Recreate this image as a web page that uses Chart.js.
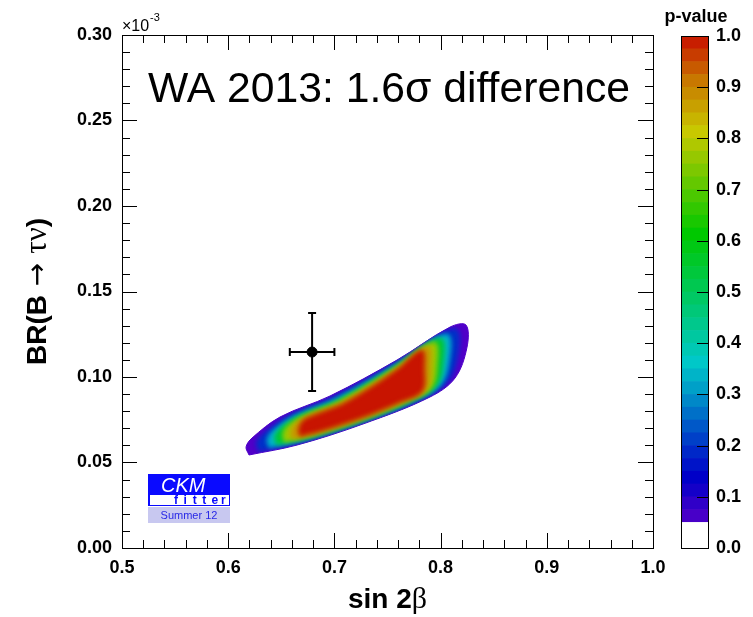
<!DOCTYPE html>
<html>
<head>
<meta charset="utf-8">
<script src="https://cdn.jsdelivr.net/npm/chart.js@4.4.1/dist/chart.umd.min.js"></script>
<style>
  html, body { margin: 0; padding: 0; background: #fff; }
  #wrap { position: relative; width: 753px; height: 617px; }
  #main { position: absolute; left: 0; top: 0; }
  #cbar { position: absolute; left: 640px; top: 0; }
</style>
</head>
<body>
<div id="wrap">
  <canvas id="main" width="753" height="617"></canvas>
  <canvas id="cbar" width="113" height="617"></canvas>
</div>
<script>
const FONT = "'Liberation Sans', Arial, sans-serif";
const SERIF = "'Liberation Serif', 'DejaVu Serif', serif";

// axis ticks
const xTickValues = [0.5, 0.6, 0.7, 0.8, 0.9, 1.0];
const yTickValues = [0.0, 0.05, 0.1, 0.15, 0.2, 0.25, 0.3];
const pTickValues = [0.0, 0.1, 0.2, 0.3, 0.4, 0.5, 0.6, 0.7, 0.8, 0.9, 1.0];

// WA 2013 measurement (sin2b, BR in 1e-3)
const waPoint = [0.679, 0.1146];
const waErrX = 0.021;
const waErrY = 0.0228;

// p-value contours (outer -> inner)
const contourP05 = [[0.6196,0.0544],[0.6168,0.0591],[0.6224,0.0643],[0.6488,0.0766],[0.6959,0.0889],[0.7589,0.1099],[0.8089,0.1292],[0.8239,0.1304],[0.8249,0.1175],[0.8136,0.0994],[0.7900,0.0883],[0.7269,0.0725],[0.6648,0.0602]];
const contourP20 = [[0.6292,0.0566],[0.6268,0.0612],[0.6320,0.0663],[0.6554,0.0768],[0.6987,0.0881],[0.7589,0.1087],[0.8023,0.1261],[0.8158,0.1274],[0.8168,0.1151],[0.8074,0.0979],[0.7844,0.0877],[0.7269,0.0733],[0.6691,0.0618]];
const contourP35 = [[0.6388,0.0588],[0.6368,0.0633],[0.6416,0.0683],[0.6620,0.0771],[0.7015,0.0873],[0.7589,0.1076],[0.7957,0.1229],[0.8077,0.1243],[0.8087,0.1126],[0.8012,0.0964],[0.7787,0.0871],[0.7269,0.0741],[0.6734,0.0635]];
const contourP55 = [[0.6460,0.0605],[0.6442,0.0649],[0.6488,0.0698],[0.6669,0.0773],[0.7037,0.0866],[0.7589,0.1067],[0.7908,0.1206],[0.8016,0.1220],[0.8026,0.1108],[0.7965,0.0952],[0.7745,0.0867],[0.7269,0.0748],[0.6767,0.0647]];
const contourP75 = [[0.6532,0.0622],[0.6517,0.0665],[0.6560,0.0713],[0.6718,0.0774],[0.7058,0.0860],[0.7589,0.1058],[0.7858,0.1182],[0.7955,0.1198],[0.7966,0.1090],[0.7918,0.0941],[0.7703,0.0863],[0.7269,0.0754],[0.6799,0.0659]];
const contourP85 = [[0.6604,0.0638],[0.6592,0.0680],[0.6632,0.0728],[0.6768,0.0776],[0.7079,0.0854],[0.7589,0.1050],[0.7809,0.1159],[0.7895,0.1175],[0.7905,0.1071],[0.7871,0.0929],[0.7660,0.0858],[0.7269,0.0760],[0.6832,0.0671]];
const contourP95 = [[0.6676,0.0655],[0.6667,0.0696],[0.6704,0.0743],[0.6817,0.0778],[0.7100,0.0848],[0.7589,0.1041],[0.7759,0.1135],[0.7834,0.1152],[0.7844,0.1053],[0.7825,0.0918],[0.7618,0.0854],[0.7269,0.0766],[0.6864,0.0684]];

const contours = [contourP05, contourP20, contourP35, contourP55, contourP75, contourP85, contourP95];
const contourColors = ["#5000c8", "#0030c8", "#00b4c8", "#00c832", "#a0c800", "#c89600", "#c81400"];

// colour palette of the p-value bar, bands of 0.025
const paletteStep = 0.025;
const paletteColors = [
  "#ffffff", "#ffffff", "#4800c8", "#3000c8", "#1400c8", "#0000c8", "#0014c8", "#0028c8",
  "#0040c8", "#0058c8", "#0070c8", "#0088c8", "#00a0c8", "#00b4c8", "#00c8c8", "#00c8b4",
  "#00c8a0", "#00c88c", "#00c878", "#00c864", "#00c850", "#00c83c", "#00c828", "#00c814",
  "#00c800", "#19c800", "#32c800", "#4bc800", "#64c800", "#7dc800", "#96c800", "#afc800",
  "#c8c800", "#c8b400", "#c8a000", "#c88c00", "#c87800", "#c85a00", "#c83c00", "#c81e00",
];

const toXY = (pts) => {
  const arr = pts.map((p) => ({ x: p[0], y: p[1] }));
  arr.push({ x: pts[0][0], y: pts[0][1] });
  return arr;
};

// first dataset is drawn on top
const datasets = [
  {
    label: "WA 2013",
    data: [{ x: waPoint[0], y: waPoint[1] }],
    pointRadius: 5,
    pointBackgroundColor: "#000",
    pointBorderColor: "#000",
    showLine: false,
  },
];
for (let i = contours.length - 1; i >= 0; i--) {
  datasets.push({
    label: "contour" + i,
    data: toXY(contours[i]),
    showLine: true,
    fill: "shape",
    backgroundColor: contourColors[i],
    borderColor: contourColors[i],
    borderWidth: 1,
    pointRadius: 0,
    tension: 0.35,
  });
}
const outerIndex = datasets.length - 1;

function drawPieces(ctx, pieces, cx, cy, rot) {
  ctx.save();
  ctx.translate(cx, cy);
  ctx.rotate(rot);
  ctx.textAlign = "left";
  ctx.textBaseline = "alphabetic";
  let total = 0;
  pieces.forEach((p) => {
    ctx.font = p.font;
    p.w = ctx.measureText(p.text).width;
    total += p.w;
  });
  let x = -total / 2;
  pieces.forEach((p) => {
    ctx.font = p.font;
    ctx.fillText(p.text, x, 10);
    x += p.w;
  });
  ctx.restore();
}

const axesPlugin = {
  id: "rootAxes",
  afterDatasetDraw(chart, args) {
    // soften the inner bands like the smooth p-value map
    if (args.index !== outerIndex) return;
    const ctx = chart.ctx;
    ctx.save();
    ctx.beginPath();
    chart.getDatasetMeta(outerIndex).dataset.path(ctx);
    ctx.closePath();
    ctx.clip();
    ctx.filter = "blur(2px)";
  },
  beforeDatasetDraw(chart, args) {
    if (args.index !== 0) return;
    const ctx = chart.ctx;
    ctx.restore();
    const xs = chart.scales.x;
    const ys = chart.scales.y;
    const cx = xs.getPixelForValue(waPoint[0]);
    const cy = ys.getPixelForValue(waPoint[1]);
    const x0 = xs.getPixelForValue(waPoint[0] - waErrX);
    const x1 = xs.getPixelForValue(waPoint[0] + waErrX);
    const y0 = ys.getPixelForValue(waPoint[1] - waErrY);
    const y1 = ys.getPixelForValue(waPoint[1] + waErrY);
    ctx.save();
    ctx.strokeStyle = "#000";
    ctx.lineWidth = 2;
    ctx.beginPath();
    ctx.moveTo(x0, cy); ctx.lineTo(x1, cy);
    ctx.moveTo(cx, y0); ctx.lineTo(cx, y1);
    ctx.moveTo(x0, cy - 4); ctx.lineTo(x0, cy + 4);
    ctx.moveTo(x1, cy - 4); ctx.lineTo(x1, cy + 4);
    ctx.moveTo(cx - 4, y0); ctx.lineTo(cx + 4, y0);
    ctx.moveTo(cx - 4, y1); ctx.lineTo(cx + 4, y1);
    ctx.stroke();
    ctx.restore();
  },
  afterDraw(chart) {
    const ctx = chart.ctx;
    const a = chart.chartArea;
    const xs = chart.scales.x;
    const ys = chart.scales.y;
    ctx.save();
    ctx.strokeStyle = "#000";
    ctx.lineWidth = 1;
    ctx.strokeRect(a.left + 0.5, a.top + 0.5, a.right - a.left, a.bottom - a.top);

    ctx.beginPath();
    for (let i = 0; i <= 25; i++) {
      const px = Math.round(xs.getPixelForValue(0.5 + i * 0.02)) + 0.5;
      const len = i % 5 === 0 ? 15 : 8;
      ctx.moveTo(px, a.bottom); ctx.lineTo(px, a.bottom - len);
      ctx.moveTo(px, a.top); ctx.lineTo(px, a.top + len);
    }
    for (let i = 0; i <= 30; i++) {
      const py = Math.round(ys.getPixelForValue(i * 0.01)) + 0.5;
      const len = i % 5 === 0 ? 15 : 8;
      ctx.moveTo(a.left, py); ctx.lineTo(a.left + len, py);
      ctx.moveTo(a.right, py); ctx.lineTo(a.right - len, py);
    }
    ctx.stroke();

    ctx.fillStyle = "#000";
    // axis titles
    drawPieces(ctx, [
      { text: "BR(B", font: "bold 28px " + FONT },
      { text: " \u2192 ", font: "28px 'DejaVu Sans', sans-serif" },
      { text: "\u03c4\u03bd", font: "31px " + SERIF },
      { text: ")", font: "bold 28px " + FONT },
    ], 36, (a.top + a.bottom) / 2, -Math.PI / 2);
    drawPieces(ctx, [
      { text: "sin 2", font: "bold 28px " + FONT },
      { text: "\u03b2", font: "30px " + SERIF },
    ], (a.left + a.right) / 2, 598, 0);

    // exponent
    ctx.textBaseline = "alphabetic";
    ctx.textAlign = "left";
    ctx.font = "16px " + FONT;
    ctx.fillText("\u00d710", a.left, a.top - 4);
    ctx.font = "11px " + FONT;
    ctx.fillText("-3", a.left + 28, a.top - 14);

    // headline
    ctx.font = "42.7px " + FONT;
    ctx.fillText("WA 2013: 1.6\u03c3 difference", 148, 102);

    // CKMfitter logo
    const lx = a.left + 26, ly = 474;
    ctx.fillStyle = "#0a0aff";
    ctx.fillRect(lx, ly, 82, 32);
    ctx.fillStyle = "#fff";
    ctx.fillRect(lx + 2, ly + 21, 79, 10);
    ctx.font = "italic 20px " + FONT;
    ctx.fillText("CKM", lx + 13, ly + 18);
    ctx.fillStyle = "#0a0aff";
    ctx.font = "bold 12px " + FONT;
    "fitter".split("").forEach((c, i) => ctx.fillText(c, lx + 26 + i * 9.4, ly + 30));
    ctx.fillStyle = "#c8c8f0";
    ctx.fillRect(lx, ly + 33, 82, 16);
    ctx.fillStyle = "#2828e6";
    ctx.font = "11px " + FONT;
    ctx.textAlign = "center";
    ctx.fillText("Summer 12", lx + 41, ly + 45);
    ctx.restore();
  },
};

new Chart(document.getElementById("main"), {
  type: "scatter",
  data: { datasets: datasets },
  options: {
    responsive: false,
    animation: false,
    layout: { padding: { left: 0, top: 35, right: 100, bottom: 0 } },
    plugins: { legend: { display: false }, tooltip: { enabled: false } },
    scales: {
      x: {
        type: "linear",
        min: 0.5,
        max: 1.0,
        afterBuildTicks: (s) => { s.ticks = xTickValues.map((v) => ({ value: v })); },
        afterFit: (s) => { s.height = 69; },
        grid: { display: false, drawTicks: false },
        border: { display: false },
        ticks: {
          color: "#000",
          padding: 9,
          maxRotation: 0,
          font: { family: FONT, size: 18, weight: "bold" },
          callback: (v) => v.toFixed(1),
        },
      },
      y: {
        type: "linear",
        min: 0,
        max: 0.3,
        afterBuildTicks: (s) => { s.ticks = yTickValues.map((v) => ({ value: v })); },
        afterFit: (s) => { s.width = 122; },
        grid: { display: false, drawTicks: false },
        border: { display: false },
        ticks: {
          color: "#000",
          padding: 10,
          font: { family: FONT, size: 18, weight: "bold" },
          callback: (v) => v.toFixed(2),
        },
      },
    },
  },
  plugins: [axesPlugin],
});

// colour bar
const barDatasets = paletteColors.map((c, i) => ({
  label: "band" + i,
  data: [paletteStep],
  backgroundColor: c,
  borderWidth: 0,
  barPercentage: 1,
  categoryPercentage: 1,
}));

const barPlugin = {
  id: "barFrame",
  afterDraw(chart) {
    const ctx = chart.ctx;
    const a = chart.chartArea;
    const ys = chart.scales.y;
    ctx.save();
    ctx.strokeStyle = "#000";
    ctx.lineWidth = 1;
    ctx.strokeRect(a.left + 0.5, a.top + 0.5, a.right - a.left, a.bottom - a.top);
    ctx.beginPath();
    pTickValues.forEach((v) => {
      const py = Math.round(ys.getPixelForValue(v)) + 0.5;
      ctx.moveTo(a.right, py); ctx.lineTo(a.right - 11, py);
    });
    ctx.stroke();
    ctx.fillStyle = "#000";
    ctx.font = "bold 18px " + FONT;
    ctx.textAlign = "center";
    ctx.textBaseline = "middle";
    ctx.fillText("p-value", 56, 17);
    ctx.restore();
  },
};

new Chart(document.getElementById("cbar"), {
  type: "bar",
  data: { labels: ["p"], datasets: barDatasets },
  options: {
    responsive: false,
    animation: false,
    layout: { padding: { left: 41, top: 36, right: 0, bottom: 69 } },
    plugins: { legend: { display: false }, tooltip: { enabled: false } },
    scales: {
      x: { stacked: true, display: false },
      y: {
        stacked: true,
        position: "right",
        min: 0,
        max: 1,
        afterBuildTicks: (s) => { s.ticks = pTickValues.map((v) => ({ value: v })); },
        afterFit: (s) => { s.width = 45; },
        grid: { display: false, drawTicks: false },
        border: { display: false },
        ticks: {
          color: "#000",
          padding: 8,
          font: { family: FONT, size: 18, weight: "bold" },
          callback: (v) => v.toFixed(1),
        },
      },
    },
  },
  plugins: [barPlugin],
});
</script>
</body>
</html>
